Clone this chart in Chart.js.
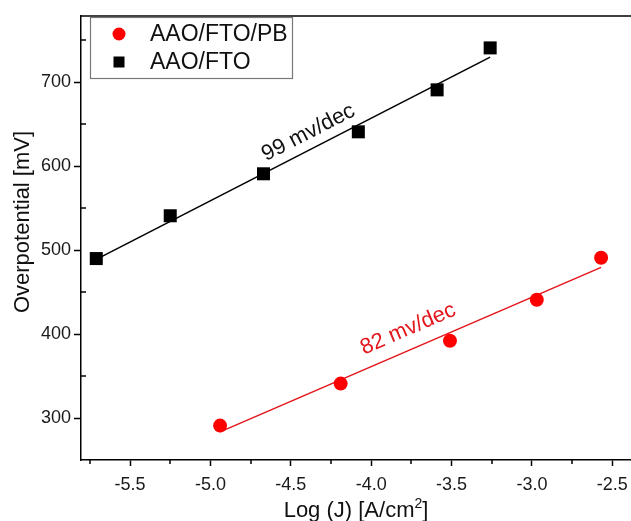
<!DOCTYPE html>
<html>
<head>
<meta charset="utf-8">
<script src="https://cdn.jsdelivr.net/npm/chart.js@4/dist/chart.umd.min.js"></script>
<style>
  html, body { margin: 0; padding: 0; background: #fff; overflow: hidden; }
  #wrap { width: 631px; height: 521px; }
</style>
</head>
<body>
<div id="wrap"><canvas id="graficoTafel"></canvas></div>
<script>
// medidas (log J, sobrepotencial em mV)
const pbX = [-4.94, -4.19, -3.51, -2.97, -2.57];
const pbY = [291, 341, 392, 441, 491];
const ftoX = [-5.71, -5.25, -4.67, -4.08, -3.59, -3.26];
const ftoY = [490, 541, 591, 641, 691, 741];

// retas de Tafel ajustadas
const pbFitX = [-4.94, -2.57];
const pbFitY = [283.5, 479.5];
const ftoFitX = [-5.71, -3.26];
const ftoFitY = [489, 730];

const xTicks = [-5.5, -5.0, -4.5, -4.0, -3.5, -3.0, -2.5];
const xMinor = [-5.75, -5.25, -4.75, -4.25, -3.75, -3.25, -2.75];
const yTicks = [300, 400, 500, 600, 700];
const yMinor = [350, 450, 550, 650, 750];

const nomes = ["AAO/FTO/PB", "AAO/FTO"];
const inclinacoes = ["82 mv/dec", "99 mv/dec"];

const fonte = '"Liberation Sans", Arial, sans-serif';
const vermelho = "#ff0000";

function pares(xs, ys) {
  return xs.map((v, i) => ({ x: v, y: ys[i] }));
}

// onde escrever cada inclinação (centro do texto) e qual reta segue
const notas = [
  { texto: inclinacoes[0], x: -3.77, y: 406, cor: "#e3161c", reta: 2 },
  { texto: inclinacoes[1], x: -4.39, y: 640, cor: "#111", reta: 3 }
];

const extras = {
  id: "extras",
  afterDraw(chart) {
    const { ctx, chartArea: a, scales: { x, y } } = chart;
    ctx.save();

    // borda de cima e ticks menores
    ctx.strokeStyle = "#000";
    ctx.lineWidth = 1.5;
    ctx.beginPath();
    ctx.moveTo(a.left, a.top);
    ctx.lineTo(a.right, a.top);
    xMinor.forEach(v => {
      const px = Math.round(x.getPixelForValue(v));
      ctx.moveTo(px, a.bottom);
      ctx.lineTo(px, a.bottom + 4);
    });
    yMinor.forEach(v => {
      const py = Math.round(y.getPixelForValue(v));
      ctx.moveTo(a.left, py);
      ctx.lineTo(a.left + 5, py);
    });
    ctx.stroke();

    ctx.fillStyle = "#111";
    ctx.font = "22px " + fonte;

    // título do eixo y
    ctx.save();
    ctx.translate(23, 222);
    ctx.rotate(-Math.PI / 2);
    ctx.textAlign = "center";
    ctx.textBaseline = "middle";
    ctx.fillText("Overpotential [mV]", 0, 0);
    ctx.restore();

    // título do eixo x, com o expoente 2 elevado
    const partes = ["Log (J) [A/cm", "2", "]"];
    ctx.textBaseline = "alphabetic";
    ctx.textAlign = "left";
    const w0 = ctx.measureText(partes[0]).width;
    const w2 = ctx.measureText(partes[2]).width;
    ctx.font = "14px " + fonte;
    const w1 = ctx.measureText(partes[1]).width;
    const cx = (a.left + a.right) / 2;
    let tx = cx - (w0 + w1 + w2) / 2;
    const base = 517;
    ctx.font = "22px " + fonte;
    ctx.fillText(partes[0], tx, base);
    tx += w0;
    ctx.font = "14px " + fonte;
    ctx.fillText(partes[1], tx, base - 9);
    tx += w1;
    ctx.font = "22px " + fonte;
    ctx.fillText(partes[2], tx, base);

    // textos inclinados ao longo das retas
    notas.forEach(n => {
      const d = chart.data.datasets[n.reta].data;
      const p0 = { x: x.getPixelForValue(d[0].x), y: y.getPixelForValue(d[0].y) };
      const p1 = { x: x.getPixelForValue(d[1].x), y: y.getPixelForValue(d[1].y) };
      const ang = Math.atan2(p1.y - p0.y, p1.x - p0.x);
      ctx.save();
      ctx.translate(x.getPixelForValue(n.x), y.getPixelForValue(n.y));
      ctx.rotate(ang);
      ctx.font = "22px " + fonte;
      ctx.fillStyle = n.cor;
      ctx.textAlign = "center";
      ctx.textBaseline = "middle";
      ctx.fillText(n.texto, 0, 0);
      ctx.restore();
    });

    // legenda com moldura
    const lx = 90, ly = 17, lw = 202, lh = 61;
    ctx.strokeStyle = "#777";
    ctx.lineWidth = 1.2;
    ctx.fillStyle = "#fff";
    ctx.fillRect(lx, ly, lw, lh);
    ctx.strokeRect(lx + 0.5, ly + 0.5, lw, lh);
    ctx.font = "23px " + fonte;
    ctx.textAlign = "left";
    ctx.textBaseline = "middle";
    [0, 1].forEach(i => {
      const ds = chart.data.datasets[i];
      const cy = ly + 17 + i * 28;
      ctx.fillStyle = ds.backgroundColor;
      if (ds.pointStyle === "circle") {
        ctx.beginPath();
        ctx.arc(119, cy, 6.5, 0, Math.PI * 2);
        ctx.fill();
      } else {
        ctx.fillRect(113.5, cy - 5.5, 11, 11);
      }
      ctx.fillStyle = "#111";
      ctx.fillText(ds.label, 150, cy + 1);
    });

    ctx.restore();
  }
};

new Chart(document.getElementById("graficoTafel"), {
  type: "scatter",
  data: {
    datasets: [
      {
        label: nomes[0],
        data: pares(pbX, pbY),
        pointStyle: "circle",
        pointRadius: 7,
        backgroundColor: vermelho,
        borderColor: vermelho,
        borderWidth: 0,
        order: 1
      },
      {
        label: nomes[1],
        data: pares(ftoX, ftoY),
        pointStyle: "rect",
        pointRadius: 9.2,
        backgroundColor: "#000",
        borderColor: "#000",
        borderWidth: 0,
        order: 1
      },
      {
        label: "ajuste PB",
        data: pares(pbFitX, pbFitY),
        showLine: true,
        pointRadius: 0,
        borderColor: "#e3161c",
        borderWidth: 1.6,
        order: 2
      },
      {
        label: "ajuste FTO",
        data: pares(ftoFitX, ftoFitY),
        showLine: true,
        pointRadius: 0,
        borderColor: "#000",
        borderWidth: 1.6,
        order: 2
      }
    ]
  },
  options: {
    responsive: true,
    maintainAspectRatio: false,
    animation: false,
    layout: {
      autoPadding: false,
      padding: { top: 16, left: 0, right: 0, bottom: 0 }
    },
    plugins: {
      legend: { display: false },
      tooltip: { enabled: false }
    },
    scales: {
      x: {
        type: "linear",
        min: -5.805,
        max: -2.384,
        afterBuildTicks: s => { s.ticks = xTicks.map(v => ({ value: v })); },
        afterFit: s => {
          s.height = 61;
          s.paddingLeft = 0;
          s.paddingRight = 0;
        },
        ticks: {
          font: { family: fonte, size: 18 },
          color: "#1a1a1a",
          padding: 8,
          maxRotation: 0,
          callback: v => v.toFixed(1)
        },
        grid: {
          drawOnChartArea: false,
          drawTicks: true,
          tickLength: 6,
          tickWidth: 1.5,
          tickColor: "#000"
        },
        border: { color: "#000", width: 1.5 }
      },
      y: {
        type: "linear",
        min: 250,
        max: 779,
        afterBuildTicks: s => { s.ticks = yTicks.map(v => ({ value: v })); },
        afterFit: s => {
          s.width = 81;
          s.paddingTop = 0;
          s.paddingBottom = 0;
        },
        ticks: {
          font: { family: fonte, size: 18 },
          color: "#1a1a1a",
          padding: 3
        },
        grid: {
          drawOnChartArea: false,
          drawTicks: true,
          tickLength: 7,
          tickWidth: 1.5,
          tickColor: "#000"
        },
        border: { color: "#000", width: 1.5 }
      }
    }
  },
  plugins: [extras]
});
</script>
</body>
</html>
